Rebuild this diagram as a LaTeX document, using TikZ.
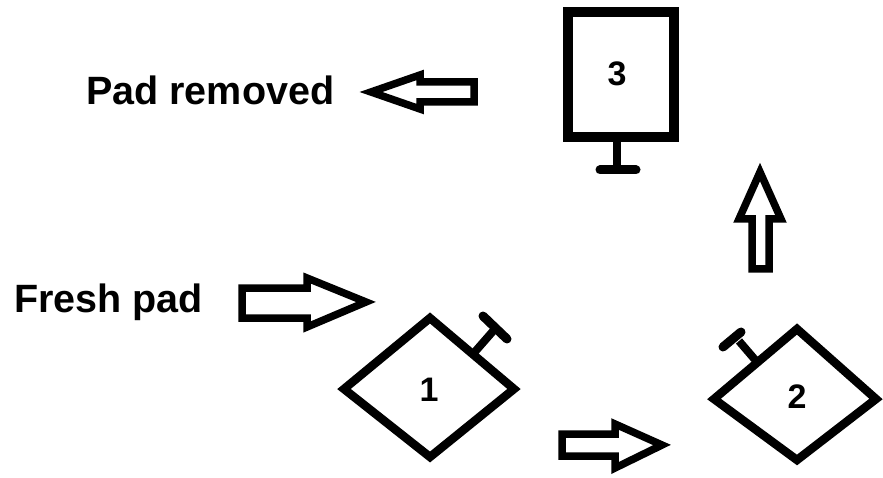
\documentclass[tikz,border=0pt]{standalone}
\usepackage{fontspec}
\setmainfont{Liberation Sans}
\begin{document}
\begin{tikzpicture}[x=1pt,y=-1pt,
  diam/.style={draw=black,line width=8.5pt,line join=miter,fill=white},
  boxthree/.style={draw=black,line width=10pt,line join=miter},
  handle/.style={draw=black,line width=8pt},
  handlebar/.style={draw=black,line width=9pt,line cap=round},
  blockarrow/.style={draw=black,line width=7.5pt,line join=miter,fill=white},
  lbl/.style={font=\bfseries\fontsize{39.5}{41}\selectfont,anchor=base west,inner sep=0pt},
  num/.style={font=\bfseries\fontsize{34}{36}\selectfont,inner sep=0pt}]
\useasboundingbox (0,0) rectangle (883,478);
% labels
\node[lbl] (removed) at (86,105) {Pad removed};
\node[lbl] (fresh) at (14,312) {Fresh pad};
% station 3
\draw[boxthree] (568,12) rectangle (674,137);
\draw[handle] (617,140) -- (617,168);
\draw[handlebar] (600,170) -- (636,170);
\node[num] (n3) at (617,74) {3};
% station 1
\draw[handle] (473,354) -- (494,330);
\draw[handlebar] (483,316) -- (507,339);
\draw[diam] (430,318) -- (514,389) -- (430,457) -- (344,389) -- cycle;
\node[num] (n1) at (429,390) {1};
% station 2
\draw[handle] (757,362) -- (739,341);
\draw[handlebar] (723,347) -- (741,332);
\draw[diam] (797,329) -- (876,399) -- (797,460) -- (714,399) -- cycle;
\node[num] (n2) at (797,397) {2};
% arrows
\draw[blockarrow] (242,288) -- (307,288) -- (307,278) -- (366,302) -- (307,327) -- (307,318) -- (242,318) -- cycle;
\draw[blockarrow] (474,82) -- (420,82) -- (420,75) -- (371,92) -- (420,109) -- (420,102) -- (474,102) -- cycle;
\draw[blockarrow] (562,434) -- (615,434) -- (615,424) -- (662,445) -- (615,468) -- (615,456) -- (562,456) -- cycle;
\draw[blockarrow] (752,269) -- (752,219) -- (739,219) -- (760,172) -- (781,219) -- (769,219) -- (769,269) -- cycle;
\end{tikzpicture}
\end{document}
